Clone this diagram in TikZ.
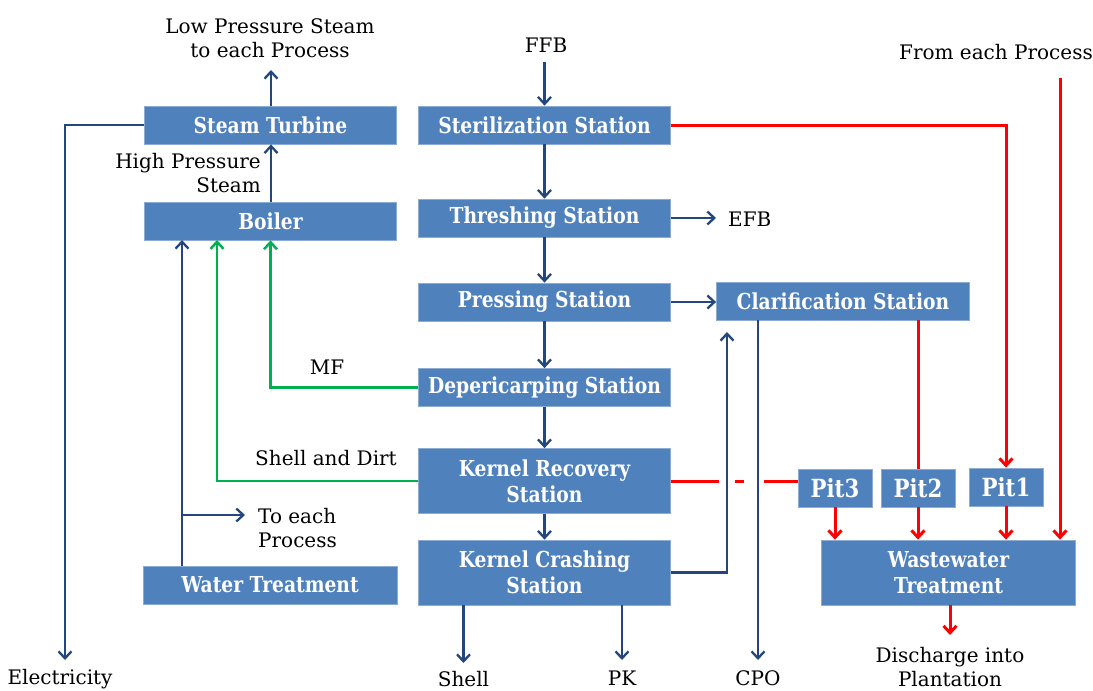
\documentclass[tikz,border=0pt]{standalone}
\usepackage{fontspec}
\setmainfont{DejaVu Serif}
\newfontfamily\boxfont[FakeStretch=0.85]{DejaVu Serif}
\usetikzlibrary{arrows.meta,calc}
\definecolor{boxblue}{RGB}{79,129,189}
\definecolor{boxedge}{RGB}{140,172,212}
\definecolor{lineblue}{RGB}{35,70,125}
\definecolor{linegreen}{RGB}{0,176,80}
\definecolor{linered}{RGB}{255,0,0}
\tikzset{
  x=1pt,y=-1pt,
  stbox/.style={rectangle,fill=boxblue,draw=boxedge,line width=0.8pt,text=white,
    font=\boxfont\fontsize{22}{26}\selectfont\bfseries,align=center,inner sep=0pt,
    minimum width=252pt,minimum height=38pt},
  tallbox/.style={stbox,minimum height=65pt},
  pitbox/.style={stbox,minimum width=74pt,font=\boxfont\fontsize{25}{28}\selectfont\bfseries},
  lbl/.style={font=\fontsize{20}{24}\selectfont,align=center,inner sep=0pt},
  tip/.style={-{Straight Barb[length=7pt,width=13pt]}},
  bflow/.style={draw=lineblue,line width=2.3pt},
  gflow/.style={draw=linegreen,line width=2.5pt},
  rflow/.style={draw=linered,line width=3pt},
}
\begin{document}
\begin{tikzpicture}
\path[use as bounding box,fill=white] (0,0) rectangle (1093,691);

% boxes
\node[stbox] (turb) at (270.5,125) {Steam Turbine};
\node[stbox] (boil) at (270.5,221) {Boiler};
\node[stbox,minimum width=254pt] (water) at (270,585) {Water Treatment};
\node[stbox] (ster) at (544.5,125) {Sterilization Station};
\node[stbox] (thr) at (544.5,218) {Threshing Station};
\node[stbox] (press) at (544.5,302) {Pressing Station};
\node[stbox] (dep) at (544.5,387.5) {Depericarping Station};
\node[tallbox] (kr) at (544.5,481) {Kernel Recovery\\Station};
\node[tallbox] (kc) at (544.5,572.5) {Kernel Crashing\\Station};
\node[stbox,minimum width=253pt] (clar) at (843,301) {Clarification Station};
\node[pitbox] (pit3) at (835,488) {Pit3};
\node[pitbox] (pit2) at (918,488) {Pit2};
\node[pitbox] (pit1) at (1006,487) {Pit1};
\node[tallbox,minimum width=254pt] (ww) at (948.5,572.5) {Wastewater\\Treatment};

% labels
\node[lbl] (lowp) at (270,38) {Low Pressure Steam\\to each Process};
\node[lbl,align=right,anchor=east] (hps) at (261,173) {High Pressure\\Steam};
\node[lbl] (ffb) at (546,45) {FFB};
\node[lbl,anchor=west] (efb) at (728,219) {EFB};
\node[lbl] (fep) at (996,52) {From each Process};
\node[lbl] (mf) at (327,367) {MF};
\node[lbl] (sad) at (326,458) {Shell and Dirt};
\node[lbl,align=left,anchor=west] (tep) at (258,528) {To each\\Process};
\node[lbl] (elec) at (60,679) {Electricity};
\node[lbl] (shell) at (463.5,679) {Shell};
\node[lbl] (pk) at (622,678) {PK};
\node[lbl] (cpo) at (758,678) {CPO};
\node[lbl] (dis) at (950,667) {Discharge into\\Plantation};

% coordinates
\coordinate (lpend) at (271,70);
\coordinate (elecend) at (65,660);
\coordinate (ffbstart) at (544.5,62);
\coordinate (efbend) at (716,218);
\coordinate (cpoend) at (758,660);
\coordinate (kcup) at (727,332);
\coordinate (shellend) at (463.5,663);
\coordinate (pkend) at (622,660);
\coordinate (fepstart) at (1060,78);
\coordinate (disend) at (950,635);
\coordinate (wtin) at (182,240);
\coordinate (branch) at (182,515);
\coordinate (branchend) at (245,515);
\coordinate (sdin) at (217,240);

% red flows
\draw[rflow,tip] (ster.east) -| (pit1.north);
\draw[rflow,tip] (fepstart) -- (fepstart |- ww.north);
\draw[rflow] (pit2.north |- clar.south) -- (pit2.north);
\draw[rflow,tip] (pit3.south) -- (pit3.south |- ww.north);
\draw[rflow,tip] (pit2.south) -- (pit2.south |- ww.north);
\draw[rflow,tip] (pit1.south) -- (pit1.south |- ww.north);
\draw[rflow,tip] (ww.south -| disend) -- (disend);
\draw[rflow] (kr.east) -- (kr.east -| pit3.west);
% gaps where blue lines cross the red line
\draw[white,line width=4pt] ($(kr.east -| kcup)+(-8.5,0)$) -- ($(kr.east -| kcup)+(8,0)$);
\draw[white,line width=4pt] ($(kr.east -| cpoend)+(-14,0)$) -- ($(kr.east -| cpoend)+(6,0)$);

% blue flows
\draw[bflow,tip] (turb.north -| lpend) -- (lpend);
\draw[bflow,tip] (boil.north -| lpend) -- (turb.south -| lpend);
\draw[bflow,tip] (turb.west) -| (elecend);
\draw[bflow,tip] (ffbstart) -- (ster.north);
\draw[bflow,tip] (ster) -- (thr);
\draw[bflow,tip] (thr) -- (press);
\draw[bflow,tip] (press) -- (dep);
\draw[bflow,tip] (dep) -- (kr);
\draw[bflow,tip] (kr) -- (kc);
\draw[bflow,tip] (thr.east) -- (efbend);
\draw[bflow,tip] (press.east) -- (clar.west |- press.east);
\draw[bflow,tip] (clar.south -| cpoend) -- (cpoend);
\draw[bflow,tip] (kc.east) -| (kcup);
\draw[bflow,tip] (kc.south -| shellend) -- (shellend);
\draw[bflow,tip] (kc.south -| pkend) -- (pkend);
\draw[bflow,tip] (water.north -| wtin) -- (wtin);
\draw[bflow,tip] (branch) -- (branchend);

% green flows
\draw[gflow,tip] (dep.west) -| (boil.south);
\draw[gflow,tip] (kr.west) -| (sdin);
\end{tikzpicture}
\end{document}
